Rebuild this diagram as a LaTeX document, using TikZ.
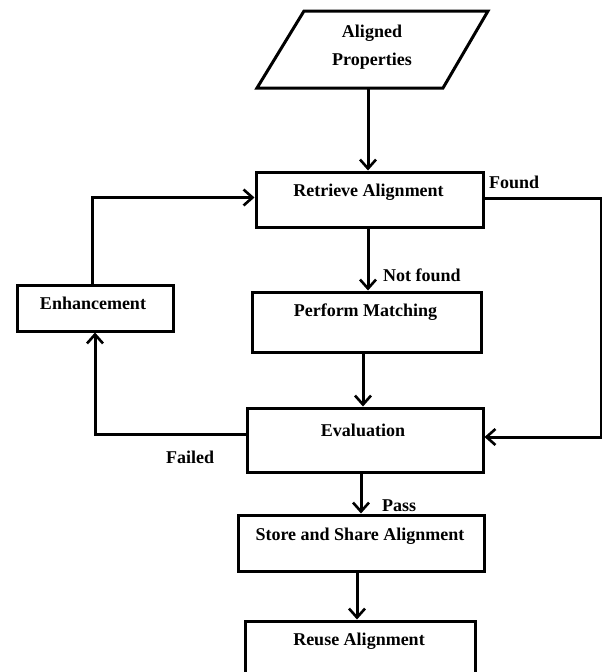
\documentclass[tikz,border=0pt]{standalone}
\usepackage{fontspec}
\setmainfont{Liberation Serif}
\usetikzlibrary{arrows.meta,calc}
\begin{document}
\begin{tikzpicture}[x=1pt,y=-1pt,
  ln/.style={line width=3pt, line join=miter},
  box/.style={draw, line width=3pt, rectangle, inner sep=0pt},
  arr/.style={line width=3pt, -{Straight Barb[length=9pt,width=16pt,line width=2.6pt]}},
  txt/.style={inner sep=0pt, font=\fontsize{18}{28}\selectfont\bfseries}]
\useasboundingbox (0,0) rectangle (602,672);
% parallelogram
\draw[ln] (304,11) -- (488,11) -- (443,88) -- (257,88) -- cycle;
\node[txt, align=center] (para) at (372,47) {Aligned\\Properties};
\coordinate (pbot) at (368,88);
% boxes
\node[box, minimum width=227pt, minimum height=55pt] (retr) at (369.5,199.5) {};
\node[box, minimum width=229pt, minimum height=60pt] (perf) at (366.5,322) {};
\node[box, minimum width=156pt, minimum height=46pt] (enh) at (95,308) {};
\node[box, minimum width=236pt, minimum height=64pt] (eval) at (365,440) {};
\node[box, minimum width=246pt, minimum height=56pt] (store) at (361,543) {};
\node[box, minimum width=230pt, minimum height=69pt] (reuse) at (360,655.5) {};
% texts
\path (retr.north) ++(-1,26) node[txt, anchor=base] (tretr) {Retrieve Alignment};
\path (perf.north) ++(-1,26) node[txt, anchor=base] (tperf) {Perform Matching};
\path (enh.north) ++(-2,26) node[txt, anchor=base] (tenh) {Enhancement};
\path (eval.north) ++(-2,30) node[txt, anchor=base] (teval) {Evaluation};
\path (store.north) ++(-1,27) node[txt, anchor=base] (tstore) {Store and Share Alignment};
\path (reuse.north) ++(-1,26) node[txt, anchor=base] (treuse) {Reuse Alignment};
% connectors
\draw[arr] (pbot) -- (pbot |- retr.north);
\draw[arr] ([xshift=-1.5pt]retr.south) -- ([xshift=-1.5pt]retr.south |- perf.north);
\draw[arr] ([xshift=-3.5pt]perf.south) -- ([xshift=-3.5pt]perf.south |- eval.north);
\draw[arr] (store.north |- eval.south) -- (store.north);
\draw[arr] ([xshift=-4pt]store.south) -- ([xshift=-4pt]store.south |- reuse.north);
\draw[arr] ([yshift=1pt]retr.east) -- ++(117,0) |- ([yshift=3pt]eval.east);
\draw[arr] ([xshift=-3pt]enh.north) |- ([yshift=2pt]retr.west);
\draw[arr] ([yshift=6pt]eval.west) -| (enh.south);
% edge labels
\node[txt, anchor=base west] (lfound) at (489,188) {Found};
\node[txt, anchor=base west] (lnot) at (383,281) {Not found};
\node[txt, anchor=base] (lfail) at (190,463) {Failed};
\node[txt, anchor=base west] (lpass) at (382,511) {Pass};
\end{tikzpicture}
\end{document}
